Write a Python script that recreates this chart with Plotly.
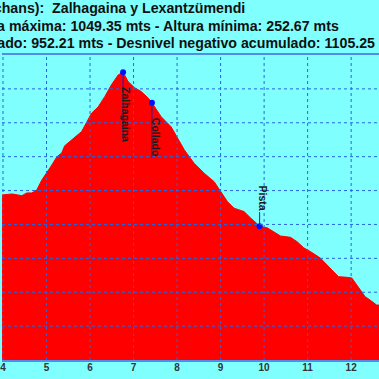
import plotly.graph_objects as go

# Profile data (km, metres)
km = [3.977, 4.206, 4.434, 4.549, 4.663, 4.777, 4.891, 5.006, 5.12, 5.234, 5.349, 5.417,
      5.577, 5.806, 6.034, 6.187, 6.338, 6.491, 6.645, 6.759, 6.873, 7.017, 7.177, 7.337,
      7.422, 7.634, 7.863, 8.016, 8.167, 8.395, 8.624, 8.853, 9.006, 9.159, 9.31, 9.538,
      9.691, 9.897, 10.073, 10.377, 10.606, 10.759, 10.91, 11.063, 11.291, 11.52, 11.709,
      11.901, 12.016, 12.16, 12.32, 12.434, 12.587, 12.64]
elev = [687, 690, 685, 693, 693, 702, 731, 752, 775, 799, 811, 832,
        849, 874, 928, 947, 977, 1012, 1041, 1049.35, 1022, 1004, 992, 973,
        959, 918, 888, 854, 820, 780, 751, 726, 697, 667, 648, 638,
        619, 595, 590, 566, 562, 549, 531, 520, 501, 472, 446,
        444, 442, 416, 387, 377, 362, 362]

# Waypoints
wp_names = ["Zalhagaina", "Collado", "Pista"]
wp_km = [6.759, 7.422, 9.897]
wp_elev = [1049.35, 959, 595]

title_lines = [
    "Lexantzü (Lichans):  Zalhagaina y Lexantzümendi",
    "Altura máxima: 1049.35 mts - Altura mínima: 252.67 mts",
    "Desnivel positivo acumulado: 952.21 mts - Desnivel negativo acumulado: 1105.25 mts",
]

x_ticks = list(range(4, 13))
y_ticks = list(range(200, 1101, 100))

W = H = 379
BG = "#80ffff"
GRID = "rgb(40,100,225)"

fig = go.Figure()
fig.add_trace(go.Scatter(x=km, y=elev, mode="lines", fill="tozeroy",
                         line=dict(color="#ff0000", width=1), fillcolor="#ff0000",
                         hoverinfo="skip", showlegend=False))
fig.add_trace(go.Scatter(x=wp_km, y=wp_elev, mode="markers",
                         marker=dict(color="#0010ff", size=6), showlegend=False))

shapes = []
for t in x_ticks:
    shapes.append(dict(type="line", xref="x", yref="paper", x0=t, x1=t, y0=0, y1=1,
                       line=dict(color=GRID, width=1, dash="dot"), layer="above"))
for t in y_ticks[1:-1]:
    shapes.append(dict(type="line", xref="paper", yref="y", x0=0, x1=1, y0=t, y1=t,
                       line=dict(color=GRID, width=1, dash="dot"), layer="above"))

# label leader lines (pixel offsets from waypoint)
leader = {"Zalhagaina": (0, -66), "Collado": (0, -55), "Pista": (0, 14)}
text_shift = {"Zalhagaina": (3, -42), "Collado": (4, -35), "Pista": (3, 28)}
annotations = []
for name, x, y in zip(wp_names, wp_km, wp_elev):
    y0, y1 = leader[name]
    shapes.append(dict(type="line", xref="x", yref="y", xsizemode="pixel", ysizemode="pixel",
                       xanchor=x, yanchor=y, x0=0, x1=0, y0=y0, y1=y1,
                       line=dict(color="#1020c0", width=1), layer="above"))
    dx, dy = text_shift[name]
    annotations.append(dict(x=x, y=y, xref="x", yref="y", text=name, showarrow=False,
                            textangle=90, xshift=dx, yshift=dy,
                            xanchor="center", yanchor="middle",
                            font=dict(family="Liberation Sans, Arial", size=10.5,
                                      color="#1a1a1a", weight="bold")))

# title lines (cropped at the chart edges as in the reference)
title_right_px = [245, 340, 405]
title_center_py = [8, 26, 43]
top, bottom = 55, 360
for txt, rx, cy in zip(title_lines, title_right_px, title_center_py):
    annotations.append(dict(xref="paper", yref="paper", x=rx / W,
                            y=1 + (top - cy) / (bottom - top),
                            xanchor="right", yanchor="middle", text=txt, showarrow=False,
                            borderpad=0,
                            font=dict(family="Liberation Sans, Arial", size=14.2,
                                      color="#111", weight="bold")))

fig.update_layout(
    width=W, height=H,
    margin=dict(l=0, r=0, t=top, b=H - bottom),
    paper_bgcolor=BG, plot_bgcolor=BG,
    shapes=shapes, annotations=annotations,
    xaxis=dict(range=[3.977, 12.64], tickvals=x_ticks, showgrid=False, zeroline=False,
               showline=True, mirror=True, linecolor="rgb(80,140,235)", linewidth=2,
               ticks="", layer="above traces", ticklabelstandoff=-3,
               ticklabeloverflow="allow",
               tickfont=dict(family="Liberation Sans, Arial", size=10, color="#333",
                             weight="bold")),
    yaxis=dict(range=[200, 1100], tickvals=y_ticks, showgrid=False, zeroline=False,
               showticklabels=False, ticks=""),
)

fig.write_html("out.html", config={"displayModeBar": False, "staticPlot": True},
               post_script="document.body.style.margin='0px';"
                           "document.body.style.overflow='hidden';"
                           "document.body.style.background='#80ffff';")
